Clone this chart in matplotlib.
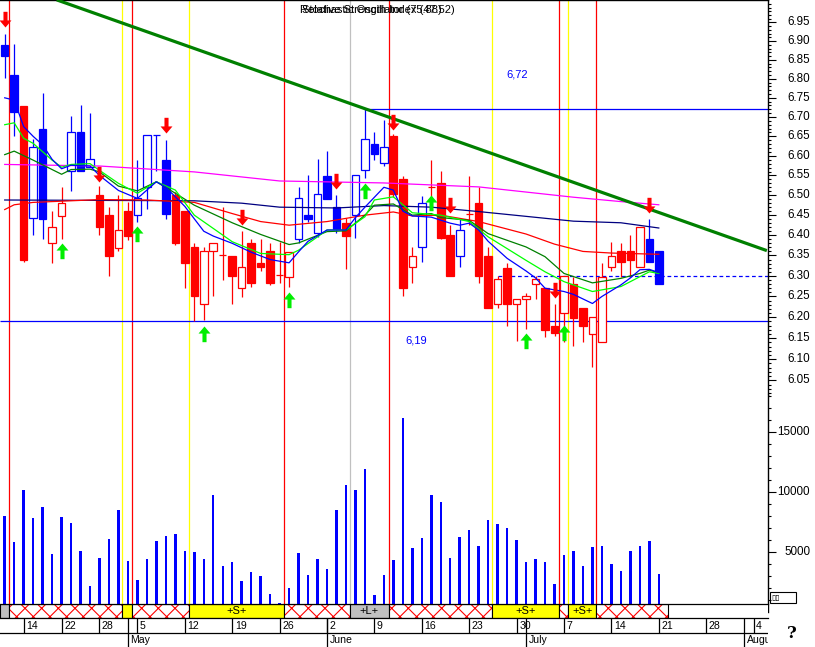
import numpy as np
import pandas as pd
import matplotlib
matplotlib.use("Agg")
import matplotlib.pyplot as plt
from matplotlib.patches import Rectangle
from matplotlib.path import Path
from matplotlib.ticker import FixedLocator, NullFormatter
from matplotlib.transforms import blended_transform_factory, ScaledTranslation

plt.rcParams['font.family'] = ['Liberation Sans', 'DejaVu Sans']
plt.rcParams['hatch.linewidth'] = 0.8

# ---------------- data ----------------
opens = [6.889, 6.810, 6.729, 6.442, 6.669, 6.382, 6.449, 6.561, 6.661, 6.571,
         6.500, 6.450, 6.369, 6.460, 6.450, 6.521, 6.653, 6.589, 6.500, 6.460,
         6.370, 6.231, 6.360, 6.351, 6.349, 6.270, 6.380, 6.331, 6.360, 6.302,
         6.298, 6.390, 6.450, 6.405, 6.548, 6.471, 6.430, 6.450, 6.564, 6.630,
         6.581, 6.651, 6.541, 6.321, 6.370, 6.520, 6.530, 6.400, 6.349, 6.453,
         6.480, 6.349, 6.231, 6.319, 6.231, 6.243, 6.280, 6.270, 6.178, 6.210,
         6.280, 6.223, 6.159, 6.140, 6.321, 6.361, 6.361, 6.321, 6.390, 6.361]
highs = [6.919, 6.892, 6.729, 6.643, 6.763, 6.461, 6.521, 6.703, 6.731, 6.710,
         6.523, 6.471, 6.500, 6.483, 6.589, 6.653, 6.653, 6.641, 6.507, 6.460,
         6.381, 6.371, 6.382, 6.471, 6.349, 6.410, 6.390, 6.390, 6.380, 6.384,
         6.359, 6.521, 6.551, 6.592, 6.612, 6.500, 6.442, 6.551, 6.720, 6.660,
         6.692, 6.655, 6.548, 6.371, 6.498, 6.589, 6.561, 6.425, 6.442, 6.548,
         6.521, 6.371, 6.300, 6.331, 6.243, 6.259, 6.300, 6.270, 6.231, 6.300,
         6.298, 6.223, 6.200, 6.331, 6.384, 6.382, 6.400, 6.420, 6.440, 6.361]
lows = [6.801, 6.652, 6.333, 6.400, 6.391, 6.332, 6.391, 6.511, 6.561, 6.571,
        6.400, 6.300, 6.362, 6.388, 6.433, 6.465, 6.562, 6.441, 6.376, 6.271,
        6.191, 6.193, 6.252, 6.290, 6.231, 6.249, 6.272, 6.313, 6.277, 6.282,
        6.272, 6.381, 6.433, 6.396, 6.491, 6.405, 6.318, 6.392, 6.543, 6.589,
        6.575, 6.495, 6.252, 6.282, 6.333, 6.467, 6.390, 6.300, 6.321, 6.425,
        6.282, 6.223, 6.221, 6.180, 6.143, 6.172, 6.243, 6.153, 6.155, 6.140,
        6.132, 6.141, 6.082, 6.140, 6.312, 6.298, 6.298, 6.321, 6.333, 6.280]
closes = [6.860, 6.712, 6.340, 6.622, 6.441, 6.420, 6.480, 6.660, 6.562, 6.591,
          6.421, 6.349, 6.412, 6.399, 6.492, 6.653, 6.653, 6.452, 6.381, 6.332,
          6.251, 6.360, 6.382, 6.351, 6.300, 6.321, 6.282, 6.321, 6.282, 6.302,
          6.359, 6.492, 6.441, 6.502, 6.491, 6.415, 6.399, 6.551, 6.642, 6.604,
          6.622, 6.503, 6.271, 6.349, 6.480, 6.520, 6.392, 6.300, 6.413, 6.453,
          6.300, 6.223, 6.292, 6.231, 6.243, 6.251, 6.292, 6.170, 6.161, 6.300,
          6.199, 6.179, 6.200, 6.298, 6.349, 6.333, 6.340, 6.420, 6.333, 6.280]
# u = blue (up trend), d = red (down trend)
trend = ("uuduudduuu" "dddduuuudd" "dddddddddd" "duuuuuduuu"
         "udddudddud" "dddddddddd" "dddddddduud")[:70]
volumes = [8025, 5883, 10192, 7833, 8750, 4858, 7917, 7417, 5108, 2217,
           4500, 6108, 8525, 4275, 2692, 4417, 5917, 6358, 6525, 5108,
           5025, 4417, 9750, 3858, 4192, 2608, 3358, 3025, 1525, 750,
           2025, 4942, 3108, 4442, 3608, 8525, 10608, 10192, 11942, 1442,
           3108, 4358, 16217, 5358, 6192, 9775, 9192, 4525, 6275, 6858,
           5550, 7692, 7358, 7050, 6025, 4192, 4442, 4192, 2358, 4775,
           5108, 3858, 5467, 5550, 4025, 3442, 5108, 5550, 5942, 3217]

ma_fast_x = [0, 1, 2, 3, 4, 5, 6, 7, 9, 10, 12, 14, 16, 17, 19, 21, 22, 24, 26, 28,
             30, 31, 32, 34, 36, 37, 38, 40, 41, 42, 43, 45, 47, 48, 49, 50, 51, 53,
             55, 56, 57, 59, 60, 62, 63, 65, 66, 67, 68, 69]
ma_fast_y = [6.750, 6.744, 6.675, 6.650, 6.628, 6.591, 6.567, 6.576, 6.574, 6.550,
             6.512, 6.492, 6.534, 6.520, 6.472, 6.410, 6.398, 6.380, 6.358, 6.340,
             6.332, 6.359, 6.385, 6.413, 6.413, 6.444, 6.470, 6.520, 6.513, 6.460,
             6.448, 6.445, 6.430, 6.425, 6.430, 6.413, 6.385, 6.343, 6.312, 6.295,
             6.270, 6.262, 6.255, 6.233, 6.250, 6.278, 6.295, 6.315, 6.316, 6.308]
ma_lgreen_x = [0, 1, 2, 3, 5, 6, 7, 9, 10, 12, 14, 16, 18, 20, 24, 27, 30, 31, 33, 34,
               36, 38, 39, 41, 43, 46, 49, 51, 55, 57, 59, 62, 65, 67, 68, 69]
ma_lgreen_y = [6.680, 6.685, 6.645, 6.632, 6.589, 6.571, 6.578, 6.580, 6.563, 6.530,
               6.505, 6.534, 6.513, 6.450, 6.384, 6.355, 6.352, 6.363, 6.396, 6.413,
               6.413, 6.446, 6.488, 6.496, 6.456, 6.450, 6.434, 6.396, 6.338, 6.310,
               6.286, 6.262, 6.274, 6.298, 6.310, 6.306]
ma_dgreen_x = [0, 1, 3, 5, 6, 7, 9, 10, 12, 14, 16, 18, 20, 24, 27, 30, 31, 34, 36, 38,
               39, 41, 43, 45, 46, 49, 51, 55, 57, 59, 62, 65, 67, 68, 69]
ma_dgreen_y = [6.603, 6.612, 6.589, 6.565, 6.553, 6.565, 6.566, 6.559, 6.523, 6.511,
               6.534, 6.505, 6.475, 6.431, 6.402, 6.377, 6.381, 6.409, 6.411, 6.450,
               6.475, 6.478, 6.450, 6.454, 6.444, 6.437, 6.404, 6.371, 6.347, 6.306,
               6.283, 6.294, 6.306, 6.314, 6.308]
ma_red_x = [0, 1, 3, 10, 15, 20, 24, 27, 30, 34, 38, 41, 43, 46, 50, 55, 58, 61, 64, 69]
ma_red_y = [6.464, 6.476, 6.482, 6.489, 6.488, 6.482, 6.454, 6.434, 6.425, 6.434,
            6.450, 6.458, 6.448, 6.450, 6.434, 6.403, 6.378, 6.360, 6.356, 6.353]
ma_navy_x = [0, 10, 20, 25, 29, 35, 40, 45, 50, 55, 60, 65, 69]
ma_navy_y = [6.488, 6.487, 6.486, 6.480, 6.470, 6.468, 6.474, 6.470, 6.459, 6.447,
             6.435, 6.431, 6.418]
ma_mag_x = [0, 10, 20, 29, 40, 45, 50, 55, 60, 65, 69]
ma_mag_y = [6.578, 6.574, 6.559, 6.536, 6.531, 6.526, 6.521, 6.508, 6.495, 6.484, 6.476]

sell_idx = [0, 10, 17, 25, 35, 41, 47, 58, 68]
sell_tip = [6.938, 6.534, 6.658, 6.425, 6.515, 6.666, 6.455, 6.246, 6.455]
buy_idx = [6, 14, 21, 30, 38, 45, 55, 59]
buy_tip = [6.381, 6.423, 6.179, 6.260, 6.530, 6.500, 6.162, 6.181]

trend_x = [5.49, 80.4]
trend_y = [7.011, 6.362]

level_high, level_high_from = 6.72, 38
level_low = 6.19
level_dash, level_dash_from = 6.30, 52

red_lines = [0.49, 13.46, 29.49, 40.5, 58.5, 62.41]
yellow_lines = [12.41, 19.47, 51.44, 59.45]
gray_lines = [36.46]

seg_start = [-0.5, 0.49, 12.41, 13.46, 19.47, 29.49, 36.46, 40.5, 51.44, 58.5, 59.45, 62.41]
seg_end = [0.49, 12.41, 13.46, 19.47, 29.49, 36.46, 40.5, 51.44, 58.5, 59.45, 62.41, 70.0]
seg_kind = ['gray', 'hatch', 'yellow', 'hatch', 'yellow', 'hatch', 'gray', 'hatch',
            'yellow', 'hatch', 'yellow', 'hatch']
seg_label = ['', '', '', '', '+S+', '', '+L+', '', '+S+', '', '+S+', '']

holidays = ['2003-04-18', '2003-04-21', '2003-05-01']
week_ticks = ['2003-04-14', '2003-04-22', '2003-04-28', '2003-05-05', '2003-05-12',
              '2003-05-19', '2003-05-26', '2003-06-02', '2003-06-09', '2003-06-16',
              '2003-06-23', '2003-06-30', '2003-07-07', '2003-07-14', '2003-07-21',
              '2003-07-28', '2003-08-04']
month_starts = ['2003-05-02', '2003-06-02', '2003-07-01', '2003-08-01']
month_names = ['May', 'June', 'July', 'August']

price_majors = [6.05, 6.10, 6.15, 6.20, 6.25, 6.30, 6.35, 6.40, 6.45, 6.50,
                6.55, 6.60, 6.65, 6.70, 6.75, 6.80, 6.85, 6.90, 6.95]
vol_majors = [5000, 10000, 15000]

# ---------------- layout ----------------
W, H = 815, 647
BLUE, RED = '#0000ff', '#ff0000'
fig = plt.figure(figsize=(W / 100, H / 100), dpi=100)


def box(x0, y0, x1, y1):
    return [x0 / W, 1 - y1 / H, (x1 - x0) / W, (y1 - y0) / H]


XL, XR = -0.496, 80.52
P_BOT, P_TOP = 6.0159, 7.0107
V_TOP = 18108

ax = fig.add_axes(box(0, 0, 768, 395))
axv = fig.add_axes(box(0, 395, 768, 612.3))
axs = fig.add_axes(box(0, 604.3, 768, 618.3))
axd = fig.add_axes(box(0, 618.3, 768, 647))

days = pd.bdate_range('2003-04-10', '2003-08-08')
days = days[~days.isin(pd.to_datetime(holidays))]
n = len(closes)
idx = np.arange(n)

# ---- price panel ----
ax.set_yscale('log')
ax.set_xlim(XL, XR)
ax.set_ylim(P_BOT, P_TOP)
for s in ['left', 'bottom']:
    ax.spines[s].set_visible(False)
ax.spines['top'].set_linewidth(1.0)
ax.spines['right'].set_linewidth(1.0)
ax.xaxis.set_visible(False)
ax.yaxis.tick_right()
ax.yaxis.set_major_locator(FixedLocator(price_majors))
ax.yaxis.set_minor_locator(FixedLocator(np.round(np.arange(6.02, 7.005, 0.01), 2)))
ax.yaxis.set_major_formatter(NullFormatter())
ax.yaxis.set_minor_formatter(NullFormatter())
ax.tick_params(axis='y', which='major', direction='out', length=6, width=0.8)
ax.tick_params(axis='y', which='minor', direction='out', length=2.5, width=0.8)
bt = blended_transform_factory(ax.transAxes, ax.transData)
for v in price_majors:
    ax.text(810 / 768, v, f'{v:.2f}', transform=bt, ha='right', va='center',
            fontsize=8.4, clip_on=False)

for axx in (ax, axv):
    for x in red_lines:
        axx.axvline(x, color=RED, lw=0.9, zorder=1)
    for x in yellow_lines:
        axx.axvline(x, color='#ffff00', lw=0.9, zorder=1)
    for x in gray_lines:
        axx.axvline(x, color='#c0c0c0', lw=0.9, zorder=1)

# levels
ax.hlines(level_high, level_high_from, XR, color=BLUE, lw=0.9, zorder=2)
ax.hlines(level_low, XL, XR, color=BLUE, lw=0.9, zorder=2)
ax.hlines(level_dash, level_dash_from, XR, color=BLUE, lw=0.9, zorder=2,
          linestyles=(0, (3, 2.2)))
ax.text(54.1, 6.8125, f'{level_high:.2f}'.replace('.', ','), color=BLUE,
        fontsize=8, ha='center', va='center')
ax.text(43.4, 6.1453, f'{level_low:.2f}'.replace('.', ','), color=BLUE,
        fontsize=8, ha='center', va='center')

# candles
for i in idx:
    col = BLUE if trend[i] == 'u' else RED
    o, h, l, c = opens[i], highs[i], lows[i], closes[i]
    ax.vlines(i, l, h, color=col, lw=0.9, zorder=3)
    lo, hi = min(o, c), max(o, c)
    if hi - lo < 1e-6:
        ax.hlines(o, i - 0.36, i + 0.36, color=col, lw=0.9, zorder=4)
    else:
        ax.add_patch(Rectangle((i - 0.4, lo), 0.8, hi - lo,
                               facecolor=col if c < o else 'white',
                               edgecolor=col, lw=0.9, zorder=4))

# moving averages
ax.plot(ma_mag_x, ma_mag_y, color='#ff00ff', lw=0.9, zorder=5)
ax.plot(ma_navy_x, ma_navy_y, color='#000080', lw=0.9, zorder=5)
ax.plot(ma_red_x, ma_red_y, color=RED, lw=0.9, zorder=5)
ax.plot(ma_dgreen_x, ma_dgreen_y, color='#008000', lw=0.9, zorder=5)
ax.plot(ma_lgreen_x, ma_lgreen_y, color='#00ff00', lw=0.9, zorder=5)
ax.plot(ma_fast_x, ma_fast_y, color=BLUE, lw=0.9, zorder=5)

# trend line
ax.plot(trend_x, trend_y, color='#008000', lw=2.3, zorder=5, solid_capstyle='butt')

# arrows
down_verts = [(0, 0), (0.38, 0.45), (0.13, 0.45), (0.13, 1.0), (-0.13, 1.0),
              (-0.13, 0.45), (-0.38, 0.45), (0, 0)]
codes = [Path.MOVETO] + [Path.LINETO] * 6 + [Path.CLOSEPOLY]
down_path = Path(down_verts, codes)
up_path = Path([(x, -y) for x, y in down_verts], codes)
ax.plot(sell_idx, sell_tip, ls='none', marker=down_path, ms=22.6, mfc=RED,
        mec='none', zorder=6)
ax.plot(buy_idx, buy_tip, ls='none', marker=up_path, ms=22.6, mfc='#00ee00',
        mec='none', zorder=6)

# titles
fig.text(300 / W, 1 - 10 / H, 'Relative Strength Index (47.52)', fontsize=8,
         ha='left', va='center')
fig.text(302 / W, 1 - 10 / H, 'Stochastic Oscillator (75.88)', fontsize=8,
         ha='left', va='center')

# ---- volume panel ----
axv.set_xlim(XL, XR)
axv.set_ylim(0, V_TOP)
for s in ['left', 'bottom', 'top']:
    axv.spines[s].set_visible(False)
axv.spines['right'].set_linewidth(1.0)
axv.xaxis.set_visible(False)
axv.yaxis.tick_right()
axv.yaxis.set_major_locator(FixedLocator(vol_majors))
axv.yaxis.set_minor_locator(FixedLocator(np.arange(1000, 18001, 1000)))
axv.yaxis.set_major_formatter(NullFormatter())
axv.yaxis.set_minor_formatter(NullFormatter())
axv.tick_params(axis='y', which='major', direction='out', length=6, width=0.8)
axv.tick_params(axis='y', which='minor', direction='out', length=2.5, width=0.8)
btv = blended_transform_factory(axv.transAxes, axv.transData)
for v in vol_majors:
    axv.text(810 / 768, v, f'{v}', transform=btv, ha='right', va='center',
             fontsize=8.4, clip_on=False)
axv.bar(idx, volumes, width=0.26, color=BLUE, zorder=3)

# ---- signal strip ----
axs.set_xlim(XL, XR)
axs.set_ylim(0, 1)
axs.set_xticks([])
axs.set_yticks([])
for s in ['left', 'right']:
    axs.spines[s].set_visible(False)
for s in ['top', 'bottom']:
    axs.spines[s].set_linewidth(0.9)
for a, b, kind, lab in zip(seg_start, seg_end, seg_kind, seg_label):
    if kind == 'hatch':
        axs.add_patch(Rectangle((a, 0), b - a, 1, facecolor='white', edgecolor=RED,
                                hatch='xx', lw=0))
    else:
        axs.add_patch(Rectangle((a, 0), b - a, 1,
                                facecolor='#ffff00' if kind == 'yellow' else '#c0c0c0',
                                lw=0))
    axs.add_patch(Rectangle((a, 0), b - a, 1, fill=False, edgecolor='black', lw=0.8))
    if lab:
        axs.text((a + b) / 2, 0.5, lab, ha='center', va='center', fontsize=8)

# ---- date axis ----
axd.set_xlim(XL, XR)
axd.set_ylim(28.7, 0)
axd.axis('off')
axd.plot([XL, XR], [15, 15], color='black', lw=0.9)
off = axd.transData + ScaledTranslation(0.025, 0, fig.dpi_scale_trans)
for d in week_ticks:
    t = pd.Timestamp(d)
    k = days.get_loc(t)
    axd.vlines(k, 0, 15, color='black', lw=0.9)
    axd.text(k, 8.0, str(t.day), transform=off, ha='left', va='center',
             fontsize=7.6, clip_on=True)
for d, name in zip(month_starts, month_names):
    k = days.get_loc(pd.Timestamp(d))
    axd.vlines(k, 0, 28.7, color='black', lw=0.9)
    axd.text(k, 21.5, name, transform=off, ha='left', va='center',
             fontsize=7.6, clip_on=True)

# small box and question mark
fig.patches.append(Rectangle((770 / W, 1 - 603 / H), 26 / W, 11 / H,
                             transform=fig.transFigure, fill=False,
                             edgecolor='black', lw=0.8))
fig.text(771 / W, 1 - 597.5 / H, '\u25af\u25af', fontsize=5.5, va='center',
         ha='left', family='DejaVu Sans')
fig.text(792 / W, 1 - 633 / H, '?', fontsize=12, fontweight='bold', ha='center',
         va='center', family='DejaVu Serif')

fig.savefig('out.png', dpi=100)
